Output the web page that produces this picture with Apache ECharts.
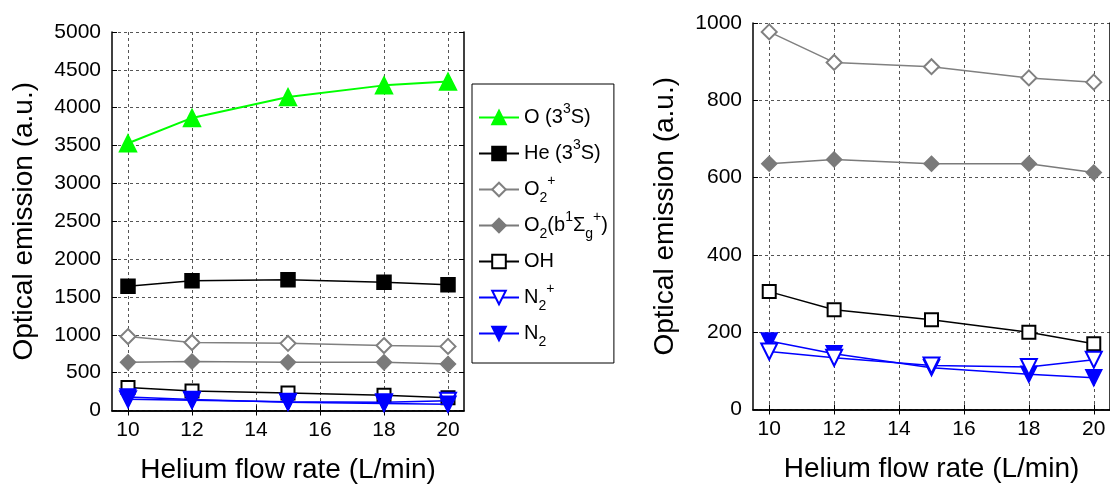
<!DOCTYPE html>
<html><head><meta charset="utf-8">
<script src="https://cdn.jsdelivr.net/npm/echarts@6/dist/echarts.min.js"></script>
<style>html,body{margin:0;padding:0;background:#fff}#c{width:1110px;height:491px}</style>
</head><body><div id="c"></div>
<script>
// ---- data ----
const flowRates = [10, 12, 15, 18, 20];
const xTickValues = [10, 12, 14, 16, 18, 20];
const O_3S   = [3530, 3865, 4140, 4295, 4345];
const He_3S  = [1640, 1715, 1728, 1695, 1660];
const O2_plus = [977, 898, 887, 858, 847];
const O2_b   = [636, 647, 636, 636, 613];
const OH     = [305, 258, 232, 200, 170];
const N2_plus = [150, 134, 114, 110, 129];
const N2     = [177, 144, 108, 91, 82];
const seriesNames = ['O (3³S)', 'He (3³S)', 'O₂⁺', 'O₂(b¹Σg⁺)', 'OH', 'N₂⁺', 'N₂'];
const legendRich = ['O (3{sup|3}S)', 'He (3{sup|3}S)', 'O{sub|2}{sup|+}', 'O{sub|2}(b{sup|1}Σ{sub|g}{sup|+})', 'OH', 'N{sub|2}{sup|+}', 'N{sub|2}'];
const yTicksLeft = {min: 0, max: 5000, interval: 500};
const yTicksRight = {min: 0, max: 1000, interval: 200};
const xLabel = 'Helium flow rate (L/min)';
const yLabel = 'Optical emission (a.u.)';

// ---- styles ----
const FONT = "'Liberation Sans', Arial, sans-serif";
const styles = [
  {symbol: 'triangle', color: '#00ff00', size: 17, rotate: 0, lw: 2},
  {symbol: 'rect', color: '#000000', size: 14, rotate: 0, lw: 1.5},
  {symbol: 'emptyDiamond', color: '#808080', size: 15, rotate: 0, lw: 1.5},
  {symbol: 'diamond', color: '#7a7a7a', size: 15, rotate: 0, lw: 1.5},
  {symbol: 'emptyRect', color: '#000000', size: 13, rotate: 0, lw: 1.5},
  {symbol: 'emptyTriangle', color: '#0000ff', size: 16, rotate: 180, lw: 1.5},
  {symbol: 'triangle', color: '#0000ff', size: 16, rotate: 180, lw: 1.5}
];
const allValues = [O_3S, He_3S, O2_plus, O2_b, OH, N2_plus, N2];
const rightSet = [2, 3, 4, 6, 5];

function pairs(vals) { return flowRates.map((x, i) => [x, vals[i]]); }

function mkSeries(idx, axisIdx, z) {
  const s = styles[idx];
  return {
    name: seriesNames[idx], type: 'line', xAxisIndex: axisIdx, yAxisIndex: axisIdx,
    data: pairs(allValues[idx]), symbol: s.symbol, symbolSize: s.size, symbolRotate: s.rotate,
    lineStyle: {color: s.color, width: s.lw},
    itemStyle: {color: s.color, borderColor: s.color, borderWidth: 1.5},
    emphasis: {disabled: true}, z: z, animation: false
  };
}

const series = [];
for (let i = 0; i < 7; i++) series.push(mkSeries(i, 0, 2 + i * 0.01));
rightSet.forEach((i, k) => series.push(mkSeries(i, 2, 2 + k * 0.01)));

const gridLine = {show: true, lineStyle: {color: '#555', type: [3, 3], width: 1}};
const axLine = {show: true, lineStyle: {color: '#000', width: 1.5}};

function xAxisMain(grid) {
  return {
    type: 'value', gridIndex: grid, min: 9.5, max: 20.5, position: 'bottom',
    axisLine: axLine, axisTick: {show: true, inside: true, length: 5, customValues: xTickValues, lineStyle: {color: '#000', width: 1}},
    axisLabel: {customValues: xTickValues, color: '#000', fontSize: 21, fontFamily: FONT, margin: 9, formatter: v => String(v)},
    splitLine: gridLine,
    name: xLabel, nameLocation: 'middle', nameGap: 46,
    nameTextStyle: {color: '#000', fontSize: 28, fontFamily: FONT}
  };
}
function xAxisTop(grid) {
  return {
    type: 'value', gridIndex: grid, min: 9.5, max: 20.5, position: 'top',
    axisLine: axLine, axisTick: {show: true, inside: true, length: 5, customValues: xTickValues, lineStyle: {color: '#000', width: 1}},
    axisLabel: {show: false, customValues: xTickValues}, splitLine: {show: false}
  };
}
function yAxisMain(grid, t) {
  return {
    type: 'value', gridIndex: grid, min: t.min, max: t.max, interval: t.interval, position: 'left',
    axisLine: axLine, axisTick: {show: true, inside: true, length: 5, lineStyle: {color: '#000', width: 1}},
    axisLabel: {color: '#000', fontSize: 21, fontFamily: FONT, margin: 11, formatter: v => String(v)},
    splitLine: gridLine,
    name: yLabel, nameLocation: 'middle', nameGap: 74,
    nameTextStyle: {color: '#000', fontSize: 28, fontFamily: FONT}
  };
}
function yAxisRight(grid, t, showTicks) {
  return {
    type: 'value', gridIndex: grid, min: t.min, max: t.max, interval: t.interval, position: 'right',
    axisLine: axLine, axisTick: {show: showTicks, inside: true, length: 5, lineStyle: {color: '#000', width: 1}},
    axisLabel: {show: false}, splitLine: {show: false}
  };
}

const chart = echarts.init(document.getElementById('c'), null, {renderer: 'canvas'});
chart.setOption({
  backgroundColor: '#fff',
  animation: false,
  textStyle: {fontFamily: FONT},
  grid: [
    {left: 112, right: 646, top: 32, bottom: 80.5},
    {left: 753, right: -2, top: 23, bottom: 81.5}
  ],
  xAxis: [xAxisMain(0), xAxisTop(0), xAxisMain(1), xAxisTop(1)],
  yAxis: [yAxisMain(0, yTicksLeft), yAxisRight(0, yTicksLeft, true), yAxisMain(1, yTicksRight), yAxisRight(1, yTicksRight, false)],
  legend: {
    orient: 'vertical', left: 472, top: 84,
    data: seriesNames,
    itemWidth: 40, itemHeight: 17, itemGap: 5,
    padding: [18, 6, 14, 6],
    borderColor: '#000', borderWidth: 1, backgroundColor: '#fff',
    selectedMode: false,
    formatter: name => legendRich[seriesNames.indexOf(name)],
    textStyle: {
      color: '#000', fontSize: 20, fontFamily: FONT, lineHeight: 31,
      rich: {
        sup: {fontSize: 14, lineHeight: 17, verticalAlign: 'top', color: '#000', fontFamily: FONT},
        sub: {fontSize: 14, lineHeight: 17, verticalAlign: 'bottom', color: '#000', fontFamily: FONT}
      }
    }
  },
  series: series
});
</script></body></html>
